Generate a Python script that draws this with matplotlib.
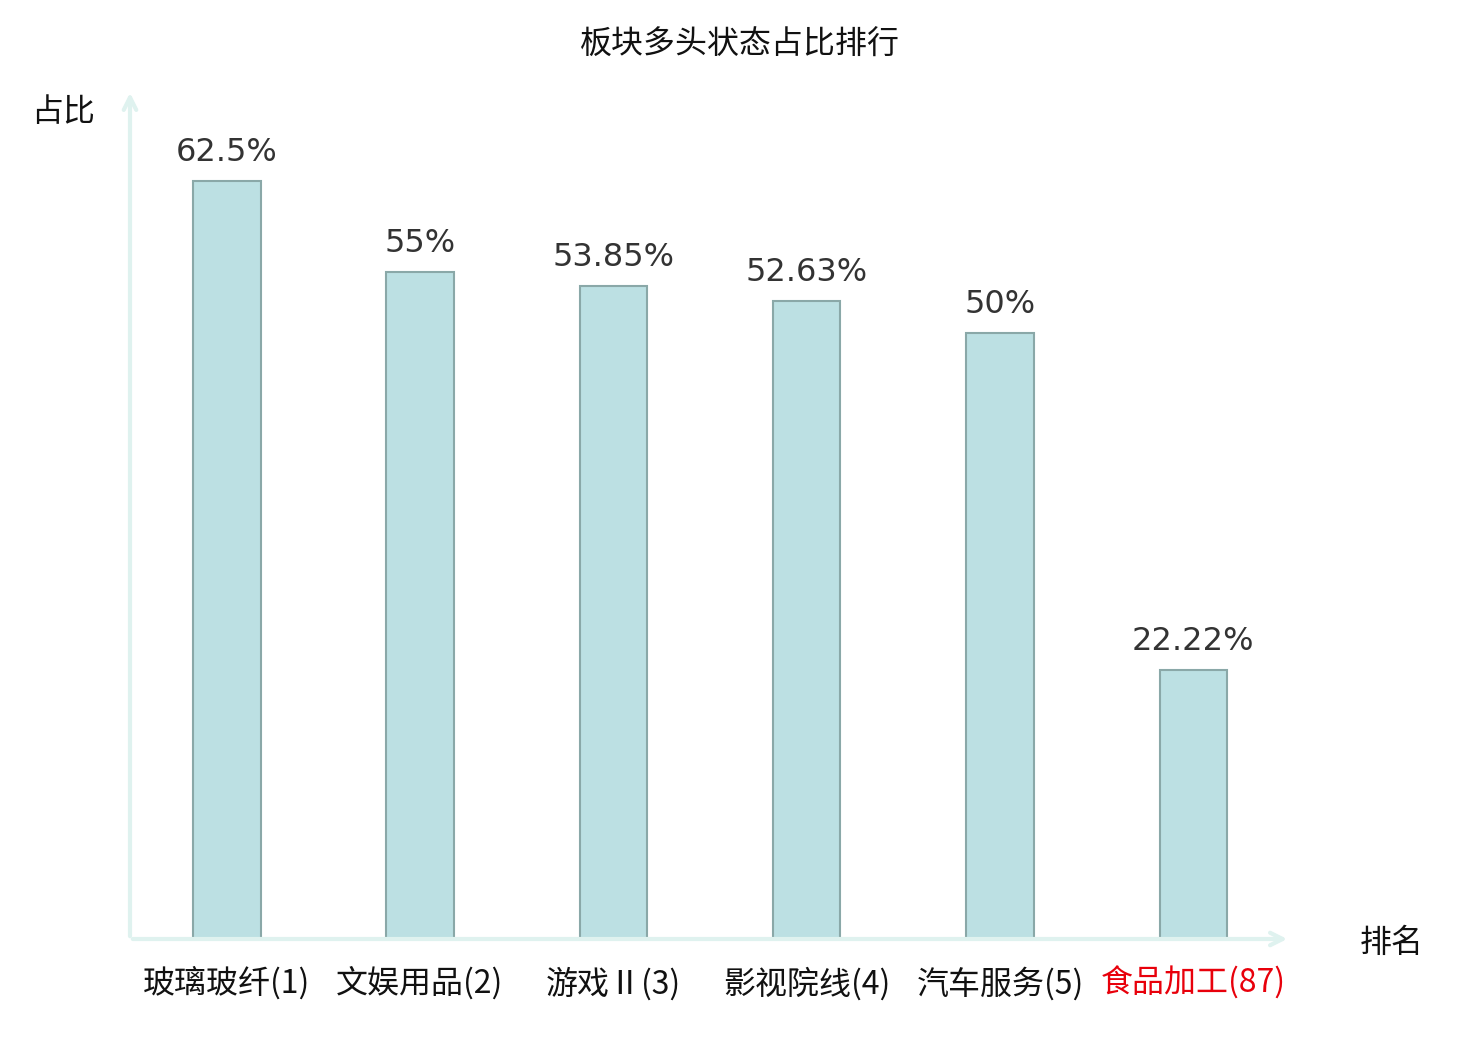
import matplotlib
matplotlib.use('Agg')
import matplotlib.pyplot as plt

# 板块多头状态占比
sectors = ['玻璃玻纤(1)', '文娱用品(2)', '游戏Ⅱ(3)', '影视院线(4)', '汽车服务(5)', '食品加工(87)']
ratios = [62.5, 55, 53.85, 52.63, 50, 22.22]
value_labels = ['62.5%', '55%', '53.85%', '52.63%', '50%', '22.22%']
label_colors = ['#111111', '#111111', '#111111', '#111111', '#111111', '#e8000b']

plt.rcParams['font.family'] = ['Noto Sans CJK SC', 'DejaVu Sans']

fig = plt.figure(figsize=(14.8, 10.4), dpi=100)
ax = fig.add_axes([130 / 1480, 1 - 939 / 1040, 1160 / 1480, 849 / 1040])

x = list(range(len(sectors)))
bars = ax.bar(x, ratios, width=0.35, color='#bce0e3', edgecolor='#8aa8a8', linewidth=1.5, zorder=2)

for xi, v, lab in zip(x, ratios, value_labels):
    ax.annotate(lab, (xi, v), xytext=(0, 9), textcoords='offset points',
                ha='center', va='bottom', fontsize=23, color='#333333', family='DejaVu Sans')

ax.set_xlim(-0.5, 5.5)
ax.set_ylim(0, 70)
for s in ax.spines.values():
    s.set_visible(False)
ax.set_yticks([])
ax.set_xticks(x)
ax.set_xticklabels(sectors, fontsize=23)
ax.tick_params(axis='x', length=0, pad=20)
for t, c in zip(ax.get_xticklabels(), label_colors):
    t.set_color(c)

axis_col = '#dff2ef'
ax.annotate('', xy=(0, 1.0), xytext=(0, 0), xycoords='axes fraction',
            arrowprops=dict(arrowstyle='->,head_length=0.9,head_width=0.45', color=axis_col, lw=3),
            annotation_clip=False)
ax.annotate('', xy=(1.0, 0), xytext=(0, 0), xycoords='axes fraction',
            arrowprops=dict(arrowstyle='->,head_length=0.9,head_width=0.45', color=axis_col, lw=3),
            annotation_clip=False)

fig.text(740 / 1480, 1 - 45 / 1040, '板块多头状态占比排行', ha='center', va='center', fontsize=23, color='#111111')
fig.text(63 / 1480, 1 - 112 / 1040, '占比', ha='center', va='center', fontsize=23, color='#111111')
fig.text(1392 / 1480, 1 - 943 / 1040, '排名', ha='center', va='center', fontsize=23, color='#111111')

fig.savefig('out.png', dpi=100)
